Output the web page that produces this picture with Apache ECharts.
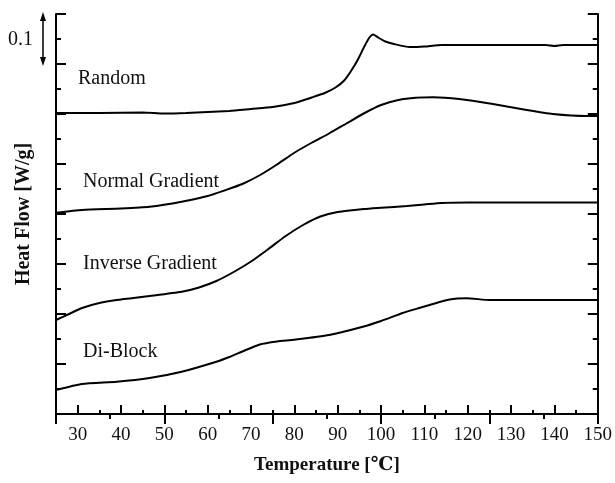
<!DOCTYPE html>
<html>
<head>
<meta charset="utf-8">
<script src="https://cdn.jsdelivr.net/npm/echarts@6/dist/echarts.min.js"></script>
<style>
    html, body {margin: 0; padding: 0; background: #fff;}
    #chart {width: 615px; height: 483px;}
</style>
</head>
<body>
<div id="chart"></div>
<script>
// temperatures (°C) and stacked heat flow readings (offset units) for each curve
var randomT = [25, 35, 45, 50, 55, 65, 70, 75, 80, 84, 87, 89.5, 91.5, 93, 94.6, 96.2, 97.4, 98.2, 99.5, 101, 103, 106.6, 110, 114, 125, 138, 140, 142, 150];
var randomV = [12.04, 12.04, 12.06, 12.02, 12.04, 12.12, 12.2, 12.28, 12.44, 12.66, 12.84, 13.06, 13.34, 13.7, 14.16, 14.72, 15.08, 15.18, 15.04, 14.9, 14.8, 14.68, 14.7, 14.76, 14.76, 14.76, 14.72, 14.76, 14.76];

var normalT = [25, 31, 40, 46.6, 54, 60, 64, 68, 72, 76, 80, 84, 88, 92, 96, 100, 104, 108, 112, 118, 125.8, 133.6, 139.6, 147.4, 150];
var normalV = [8.05, 8.16, 8.22, 8.29, 8.49, 8.72, 8.95, 9.2, 9.55, 9.98, 10.45, 10.85, 11.22, 11.62, 12.02, 12.36, 12.56, 12.65, 12.67, 12.6, 12.4, 12.16, 12.0, 11.92, 11.92];

var inverseT = [25, 28, 31, 35, 39, 46.6, 54, 58, 62, 66, 70, 74, 78, 82, 86, 90, 96, 100, 106, 110, 114, 120, 130, 150];
var inverseV = [3.76, 4.0, 4.24, 4.44, 4.56, 4.72, 4.89, 5.06, 5.32, 5.68, 6.1, 6.6, 7.12, 7.56, 7.9, 8.08, 8.2, 8.25, 8.32, 8.38, 8.44, 8.46, 8.46, 8.46];

var diblockT = [25, 31, 39, 46.6, 54, 62, 65, 68, 72, 76, 80, 88, 95.8, 100, 105, 108.8, 111.2, 115.8, 119.7, 125, 150];
var diblockV = [0.96, 1.2, 1.29, 1.44, 1.69, 2.09, 2.28, 2.5, 2.78, 2.9, 2.97, 3.16, 3.49, 3.72, 4.04, 4.24, 4.36, 4.58, 4.63, 4.56, 4.56];

var xMajor = [30, 40, 50, 60, 70, 80, 90, 100, 110, 120, 130, 140, 150];
var xMinor = [35, 45, 55, 65, 75, 85, 95, 105, 115, 125, 135, 145];

var serif = '"Liberation Serif", "DejaVu Serif", serif';

function pairs(ts, vs) {
    return ts.map(function (t, i) {
        return [t, vs[i]];
    });
}

function curve(name, ts, vs) {
    return {
        name: name,
        type: 'line',
        xAxisIndex: 0,
        yAxisIndex: 0,
        data: pairs(ts, vs),
        smooth: 0.2,
        showSymbol: false,
        lineStyle: {color: '#000', width: 2},
        silent: true
    };
}

function label(text, x, y) {
    return {
        type: 'text',
        left: x,
        top: y,
        style: {text: text, font: '20px ' + serif, fill: '#111'}
    };
}

// extra bottom axis that only draws one set of inward ticks
function tickAxis(values, len) {
    return {
        type: 'value',
        position: 'bottom',
        min: 25,
        max: 150,
        axisLine: {show: false},
        axisTick: {show: true, inside: true, length: len, customValues: values, lineStyle: {color: '#000', width: 2}},
        axisLabel: {show: false},
        splitLine: {show: false}
    };
}

var myChart = echarts.init(document.getElementById('chart'));

var axisLine = {show: true, lineStyle: {color: '#000', width: 2}};

var option = {
    animation: false,
    backgroundColor: '#fff',
    grid: {left: 56, right: 17, top: 14, bottom: 69},
    xAxis: [{
        type: 'value',
        position: 'bottom',
        min: 25,
        max: 150,
        axisLine: axisLine,
        axisTick: {show: false},
        axisLabel: {customValues: xMajor, color: '#111', fontFamily: serif, fontSize: 19, margin: 12},
        splitLine: {show: false},
        name: 'Temperature [℃]',
        nameLocation: 'middle',
        nameGap: 42,
        nameTextStyle: {fontFamily: serif, fontWeight: 'bold', fontSize: 19, color: '#111'}
    }, {
        type: 'value',
        position: 'top',
        min: 25,
        max: 150,
        interval: 25,
        axisLine: axisLine,
        axisTick: {show: true, inside: true, length: 10, lineStyle: {color: '#000', width: 2}},
        minorTick: {show: true, splitNumber: 2, length: 5, lineStyle: {color: '#000', width: 2}},
        axisLabel: {show: false},
        splitLine: {show: false}
    },
        tickAxis(xMajor, 9),
        tickAxis(xMinor, 4)
    ],
    yAxis: [{
        type: 'value',
        position: 'left',
        min: 0,
        max: 16,
        interval: 2,
        axisLine: axisLine,
        axisTick: {show: true, inside: true, length: 10, lineStyle: {color: '#000', width: 2}},
        minorTick: {show: true, splitNumber: 2, length: 5, lineStyle: {color: '#000', width: 2}},
        axisLabel: {show: false},
        splitLine: {show: false},
        name: 'Heat Flow [W/g]',
        nameLocation: 'middle',
        nameGap: 22,
        nameRotate: 90,
        nameTextStyle: {fontFamily: serif, fontWeight: 'bold', fontSize: 20, color: '#111'}
    }, {
        type: 'value',
        position: 'right',
        min: 0,
        max: 16,
        interval: 2,
        axisLine: axisLine,
        axisTick: {show: true, inside: true, length: 10, lineStyle: {color: '#000', width: 2}},
        minorTick: {show: true, splitNumber: 2, length: 5, lineStyle: {color: '#000', width: 2}},
        axisLabel: {show: false},
        splitLine: {show: false}
    }],
    graphic: [
        label('Random', 78, 69),
        label('Normal Gradient', 83, 172),
        label('Inverse Gradient', 83, 254),
        label('Di-Block', 83, 342),
        {
            type: 'text',
            left: 8,
            top: 30,
            style: {text: '0.1', font: '20px ' + serif, fill: '#111'}
        },
        {
            type: 'line',
            shape: {x1: 43, y1: 16, x2: 43, y2: 62},
            style: {stroke: '#000', lineWidth: 1.5}
        },
        {
            type: 'polygon',
            shape: {points: [[43, 12], [40, 21], [46, 21]]},
            style: {fill: '#000'}
        },
        {
            type: 'polygon',
            shape: {points: [[43, 66], [40, 57], [46, 57]]},
            style: {fill: '#000'}
        }
    ],
    series: [
        curve('Random', randomT, randomV),
        curve('Normal Gradient', normalT, normalV),
        curve('Inverse Gradient', inverseT, inverseV),
        curve('Di-Block', diblockT, diblockV)
    ]
};

myChart.setOption(option);
</script>
</body>
</html>
